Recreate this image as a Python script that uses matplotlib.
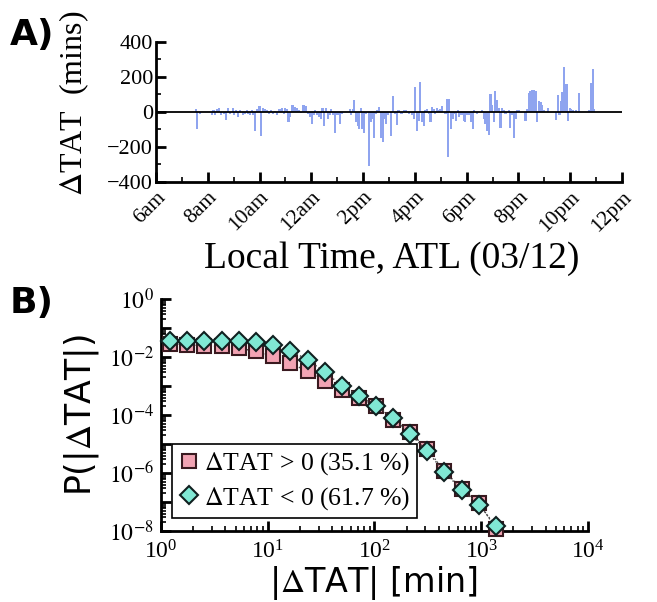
import matplotlib
matplotlib.use('Agg')
import matplotlib.pyplot as plt
import matplotlib.ticker as mticker
import numpy as np

# 字体设置
plt.rcParams['font.family'] = ['Liberation Serif', 'DejaVu Serif']
plt.rcParams['mathtext.fontset'] = 'stix'

# ---------------- A) 数据：各航班的 ΔTAT (分钟) ----------------
hours = [7.55, 7.59, 7.70, 8.15, 8.22, 8.28, 8.35, 8.44, 8.51, 8.63, 8.71, 8.77,
         8.86, 8.97, 9.02, 9.09, 9.18, 9.25, 9.35, 9.44, 9.51, 9.57, 9.64, 9.70,
         9.77, 9.84, 9.92, 10.00, 10.06, 10.13, 10.22, 10.28, 10.36, 10.44, 10.51,
         10.60, 10.69, 10.77, 10.86, 10.93, 10.99, 11.06, 11.12, 11.18, 11.27, 11.35,
         11.44, 11.51, 11.60, 11.70, 11.79, 11.87, 11.96, 12.02, 12.09, 12.15, 12.22,
         12.31, 12.37, 12.43, 12.50, 12.56, 12.64, 12.71, 12.77, 12.83, 12.92, 13.01,
         13.12, 13.18, 13.48, 13.54, 13.60, 13.66, 13.72, 13.79, 13.85, 13.92, 13.97,
         14.03, 14.10, 14.23, 14.29, 14.36, 14.43, 14.50, 14.56, 14.63, 14.69, 14.76,
         14.83, 14.90, 14.96,
         15.09, 15.16, 15.22, 15.31, 15.37, 15.48, 15.57, 15.66, 15.76, 15.89, 15.96,
         16.02, 16.08, 16.15, 16.21, 16.28, 16.34, 16.41, 16.47, 16.54, 16.60, 16.66,
         16.74, 16.79, 16.86, 16.92, 16.99, 17.05, 17.18, 17.24, 17.28, 17.33, 17.40,
         17.46, 17.53, 17.59, 17.67, 17.72, 17.80, 17.89, 17.95, 18.02, 18.08, 18.17,
         18.24, 18.28, 18.41, 18.60, 18.66, 18.73, 18.79, 18.86, 18.92, 18.99, 19.05,
         19.11, 19.18, 19.24, 19.31, 19.37, 19.44, 19.50, 19.63, 19.66, 19.73, 19.82,
         19.89, 19.95, 20.02, 20.27, 20.34, 20.40, 20.47, 20.53, 20.60, 20.66, 20.73,
         20.79, 20.86, 20.92, 20.98, 21.15, 21.46, 21.53, 21.59, 21.65, 21.69, 21.76,
         21.82, 21.89, 21.93, 21.98, 22.03, 22.11, 22.21, 22.34, 22.72, 22.80, 22.88,
         22.93]
dtat = [15, -95, -10, -20, 10, -15, 15, 20, -15, -10, -45, 25,
        -10, 20, -20, 10, -30, 10, -15, -10, 10, -10, -15, 10,
        -20, -110, 15, 35, -135, 20, 15, 10, -10, 10, -10,
        5, -15, 15, 20, -10, 20, 15, -60, -30, 40, 30,
        20, 10, -5, 40, 35, -10, -30, -70, -20, 10, -15,
        -30, -40, 25, -80, 25, -40, -20, 15, -20, -120, -15,
        -70, -10, 15, -20, 15, 70, -60, -80, -100, 20, -100,
        -120, -10, -310, -60, -40, -150, -10, 10, 30, -150, -170,
        -40, -70, -20,
        -140, 90, -10, -75, 10, -10, 10, 10, -10, -20, -40,
        140, -110, -50, 170, -60, -80, 10, 15, -10, -60, 30,
        15, -10, 20, 10, 15, 35, -10, 75, -260, 75, -100,
        -40, -10, -50, 10, -30, -20, -50, -60, -20, -15, -60,
        -100, 10, -10, 10, -40, -70, -110, -130, 100, 40, -60,
        120, 70, 20, -90, 20, 10, -10, 10, -90, -20, -150,
        -40, 10, 10, -50, 15, 110, 120, 125, 125, 120, -60,
        60, 55, 40, 10, 25, -45, 95, -20, 60, 115, 255,
        160, 160, -50, 20, 15, 10, 10, 110, 10, 165, 245,
        15]

hour_ticks = [6, 8, 10, 12, 14, 16, 18, 20, 22, 24]
hour_labels = ['6am', '8am', '10am', '12am', '2pm', '4pm', '6pm', '8pm', '10pm', '12pm']

# ---------------- B) 数据：|ΔTAT| 分布 ----------------
abs_tat = [1.21, 1.76, 2.55, 3.70, 5.38, 7.71, 11.1, 16.2, 23.7, 34.4,
           49.9, 72.0, 103, 150, 215, 313, 451, 664, 953, 1375]
p_pos = [2.88e-2, 2.65e-2, 2.45e-2, 2.32e-2, 2.04e-2, 1.56e-2, 1.11e-2, 6.2e-3, 3.18e-3, 1.44e-3,
         7.4e-4, 3.86e-4, 1.98e-4, 6.9e-5, 2.5e-5, 6.8e-6, 1.15e-6, 2.8e-7, 9.3e-8, 1.2e-8]
p_neg = [3.45e-2, 3.45e-2, 3.45e-2, 3.45e-2, 3.45e-2, 3.18e-2, 2.65e-2, 1.65e-2, 8.1e-3, 2.94e-3,
         1.02e-3, 4.6e-4, 2.09e-4, 7.9e-5, 2.26e-5, 5.6e-6, 1.08e-6, 2.5e-7, 8.1e-8, 1.45e-8]
label_pos = r'$\Delta$TAT > 0 (35.1 %)'
label_neg = r'$\Delta$TAT < 0 (61.7 %)'

fig = plt.figure(figsize=(6.57, 6.02), dpi=100, facecolor='white')

# ================= A) =================
axA = fig.add_axes([0.2374, 0.6977, 0.7093, 0.2326])
axA.bar(hours, dtat, width=0.085, color='#8fa4ef', linewidth=0, zorder=2)
axA.axhline(0, color='black', linewidth=1.3, zorder=3)

axA.set_xlim(6, 24)
axA.set_ylim(-400, 400)
axA.set_xticks(hour_ticks)
axA.set_xticklabels(hour_labels, rotation=45, ha='right', va='top',
                    rotation_mode='anchor', fontsize=15.5)
axA.xaxis.set_minor_locator(mticker.MultipleLocator(1))
axA.set_yticks([-400, -200, 0, 200, 400])
axA.yaxis.set_minor_locator(mticker.MultipleLocator(100))
axA.tick_params(axis='y', labelsize=16, pad=2)
axA.tick_params(which='major', direction='in', length=7, width=2)
axA.tick_params(which='minor', direction='in', length=3.5, width=1.2)
axA.tick_params(axis='x', which='major', pad=4)
for s in ['top', 'right']:
    axA.spines[s].set_visible(False)
for s in ['left', 'bottom']:
    axA.spines[s].set_linewidth(2)

axA.set_ylabel(r'$\Delta$TAT  (mins)', fontsize=23, va='center')
axA.yaxis.set_label_coords(-0.175, 0.56)
axA.set_xlabel('Local Time, ATL (03/12)', fontsize=27, va='center')
axA.xaxis.set_label_coords(0.506, -0.55)

# ================= B) =================
axB = fig.add_axes([0.245, 0.1179, 0.650, 0.3854])
axB.plot(abs_tat, p_pos, linestyle=':', color='#444444', linewidth=1,
         marker='s', markersize=10.5, markerfacecolor='#f2a3b3',
         markeredgecolor='#3a1a20', markeredgewidth=1.5, label=label_pos,
         zorder=3, clip_on=False)
axB.plot(abs_tat, p_neg, linestyle=':', color='#444444', linewidth=1,
         marker='D', markersize=9.5, markerfacecolor='#80e8d4',
         markeredgecolor='#102020', markeredgewidth=1.5, label=label_neg,
         zorder=4, clip_on=False)

axB.set_xscale('log')
axB.set_yscale('log')
axB.set_xlim(1, 1e4)
axB.set_ylim(1e-8, 1)
axB.xaxis.set_major_locator(mticker.LogLocator(base=10, numticks=10))
axB.xaxis.set_minor_locator(mticker.LogLocator(base=10, subs=np.arange(2, 10), numticks=20))
axB.yaxis.set_major_locator(mticker.LogLocator(base=10, numticks=20))
axB.yaxis.set_minor_locator(mticker.LogLocator(base=10, subs=np.arange(2, 10), numticks=20))
axB.yaxis.set_major_formatter(mticker.FuncFormatter(
    lambda v, p: r'$10^{%d}$' % round(np.log10(v)) if round(np.log10(v)) % 2 == 0 else ''))
axB.xaxis.set_minor_formatter(mticker.NullFormatter())
axB.yaxis.set_minor_formatter(mticker.NullFormatter())
axB.tick_params(labelsize=17)
axB.tick_params(which='major', direction='in', length=7, width=2)
axB.tick_params(which='minor', direction='in', length=3.5, width=1.2)
axB.tick_params(axis='x', which='major', pad=7)
axB.tick_params(axis='y', which='major', pad=5)
for s in ['top', 'right']:
    axB.spines[s].set_visible(False)
for s in ['left', 'bottom']:
    axB.spines[s].set_linewidth(2)

axB.set_ylabel(r'P(|$\Delta$TAT|)', fontsize=25, family='DejaVu Sans', va='center')
axB.yaxis.set_label_coords(-0.185, 0.5)
axB.set_xlabel(r'|$\Delta$TAT| [min]', fontsize=24, family='DejaVu Sans', va='center')
axB.xaxis.set_label_coords(0.497, -0.225)

leg = axB.legend(loc='lower left', bbox_to_anchor=(0.026, 0.056), borderaxespad=0,
                 fancybox=False, edgecolor='black', framealpha=1, fontsize=18.5,
                 handlelength=0.8, handletextpad=0.2, borderpad=0.25,
                 labelspacing=0.3)
leg.get_frame().set_linewidth(1.2)
for h in leg.legend_handles:
    h.set_linestyle('None')

# 子图编号
fig.text(0.015, 0.942, 'A)', fontsize=26, fontweight='bold', family='DejaVu Sans', va='center')
fig.text(0.015, 0.497, 'B)', fontsize=26, fontweight='bold', family='DejaVu Sans', va='center')

fig.savefig('out.png', dpi=100)
